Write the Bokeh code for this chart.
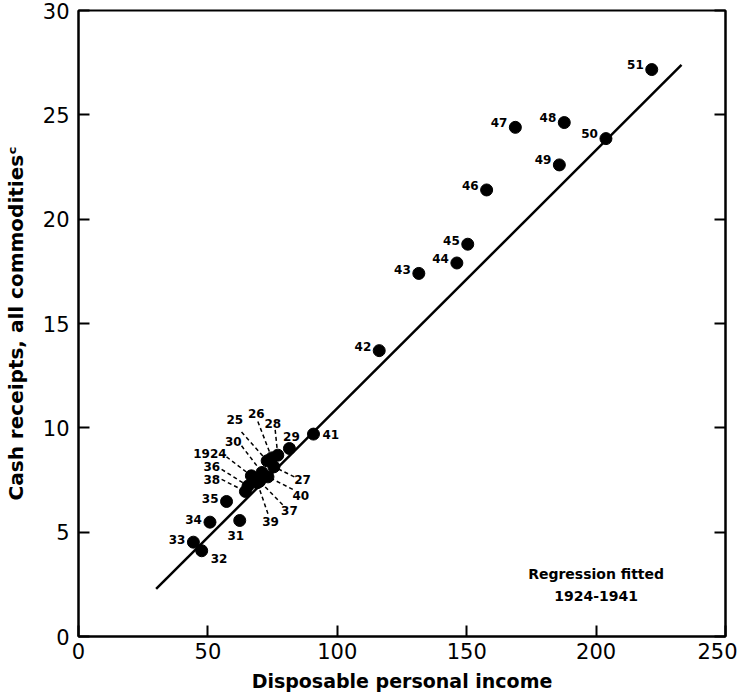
from bokeh.plotting import figure
from bokeh.models import Range1d, LinearAxis, ColumnDataSource, FixedTicker
from bokeh.core.properties import value
from bokeh.embed import file_html
from bokeh.resources import INLINE

# ---- data ----
years = ["1924", "25", "26", "27", "28", "29", "30", "31", "32", "33", "34", "35", "36", "37",
         "38", "39", "40", "41", "42", "43", "44", "45", "46", "47", "48", "49", "50", "51"]
income = [66.8, 72.9, 74.7, 75.5, 77.0, 81.5, 70.9, 62.3, 47.6, 44.4, 50.8, 57.2, 65.5, 70.0,
          64.5, 69.1, 73.2, 90.8, 116.2, 131.5, 146.2, 150.4, 157.7, 168.8, 187.7, 185.8, 203.8, 221.5]
receipts = [7.70, 8.42, 8.56, 8.13, 8.69, 9.01, 7.86, 5.56, 4.11, 4.52, 5.48, 6.47, 7.21, 7.44,
            6.95, 7.37, 7.65, 9.70, 13.70, 17.40, 17.90, 18.80, 21.40, 24.40, 24.63, 22.60, 23.86, 27.17]

# regression fitted 1924-1941 (coefficients)
reg_intercept = -1.43
reg_slope = 0.1237
reg_x = [30.0, 233.0]

x_ticks = [0, 50, 100, 150, 200, 250]
y_ticks = [0, 5, 10, 15, 20, 25, 30]

# ---- label layout ----
near_labels = [("29", 2, -12, "center"), ("41", 9, 0, "left"), ("31", -4, 15, "center"),
               ("32", 9, 8, "left"), ("33", -8, -3, "right"), ("34", -8, -3, "right"),
               ("35", -8, -3, "right"), ("42", -8, -4, "right"), ("43", -8, -4, "right"),
               ("44", -8, -4, "right"), ("45", -8, -4, "right"), ("46", -8, -4, "right"),
               ("47", -8, -5, "right"), ("48", -8, -5, "right"), ("49", -8, -5, "right"),
               ("50", -8, -5, "right"), ("51", -8, -5, "right")]
lead_years = ["25", "26", "28", "30", "1924", "36", "38", "27", "40", "37", "39"]
lead_lx = [60.4, 68.7, 75.1, 59.8, 50.8, 51.5, 51.5, 86.6, 85.9, 81.5, 74.2]
lead_ly = [10.4, 10.67, 10.2, 9.36, 8.77, 8.13, 7.53, 7.53, 6.76, 6.04, 5.51]
lead_sx = [63.0, 69.3, 76.0, 63.0, 57.2, 55.3, 55.3, 83.4, 82.8, 78.9, 73.2]
lead_sy = [9.8, 10.3, 9.9, 9.14, 8.61, 8.01, 7.53, 7.65, 7.05, 6.31, 5.88]

FONT = "DejaVu Sans"

p = figure(frame_width=647, frame_height=626, output_backend="svg", toolbar_location=None,
           x_range=Range1d(0, 250), y_range=Range1d(0, 30),
           min_border_left=78, min_border_right=12, min_border_top=10, min_border_bottom=52,
           background_fill_color="white", border_fill_color="white")
p.xgrid.visible = False
p.ygrid.visible = False
p.outline_line_color = "black"
p.outline_line_width = 2

for ax in (p.xaxis[0], p.yaxis[0]):
    ax.axis_line_width = 2
    ax.major_tick_line_width = 2
    ax.major_tick_in = 11
    ax.major_tick_out = 0
    ax.minor_tick_line_color = None
    ax.major_label_text_font = FONT
    ax.major_label_text_font_size = "21px"
    ax.major_label_text_color = "black"
    ax.axis_label_text_font = FONT
    ax.axis_label_text_font_style = "bold"
    ax.axis_label_text_font_size = "19px"
    ax.axis_label_text_color = "black"

p.yaxis.axis_label_text_font_size = "20px"
p.xaxis.ticker = FixedTicker(ticks=x_ticks)
p.yaxis.ticker = FixedTicker(ticks=y_ticks)
p.xaxis.axis_label = "Disposable personal income"
p.yaxis.axis_label = "Cash receipts, all commodities\u1d9c"
p.xaxis.major_label_standoff = 6
p.yaxis.major_label_standoff = 9
p.xaxis.axis_label_standoff = 8
p.yaxis.axis_label_standoff = 12

right = LinearAxis(ticker=FixedTicker(ticks=y_ticks), major_tick_in=11, major_tick_out=0,
                   axis_line_width=2, major_tick_line_width=2, minor_tick_line_color=None,
                   major_label_overrides={t: "" for t in y_ticks})
p.add_layout(right, "right")

# regression line
reg_y = [reg_intercept + reg_slope * v for v in reg_x]
p.line(reg_x, reg_y, line_color="black", line_width=2.5)

# leader lines
idx = {y: i for i, y in enumerate(years)}
ex = [income[idx[y]] for y in lead_years]
ey = [receipts[idx[y]] for y in lead_years]
p.segment(x0=lead_sx, y0=lead_sy, x1=ex, y1=ey, line_color="black", line_width=1.5,
          line_dash="4 3")

# points
p.scatter(income, receipts, size=12, fill_color="black", line_color="black")

# near labels
for align in ("left", "right", "center"):
    sel = [t for t in near_labels if t[3] == align]
    src = ColumnDataSource(dict(
        x=[income[idx[t[0]]] for t in sel],
        y=[receipts[idx[t[0]]] for t in sel],
        text=[t[0] for t in sel],
        dx=[t[1] for t in sel],
        dy=[t[2] for t in sel]))
    p.text(x="x", y="y", text="text", x_offset="dx", y_offset="dy", source=src,
           text_align=align, text_baseline="middle", text_font=value(FONT),
           text_font_style="bold", text_font_size="12px", text_color="black")

# leader labels
p.text(x=lead_lx, y=lead_ly, text=lead_years, text_align="center", text_baseline="middle",
       text_font=value(FONT), text_font_style="bold", text_font_size="12px", text_color="black")

# note
p.text(x=[200, 200], y=[3.0, 1.95], text=["Regression fitted", "1924-1941"],
       text_align="center", text_baseline="middle", text_font=value(FONT),
       text_font_style="bold", text_font_size="14px", text_color="black")

open("out.html", "w").write(file_html(p, INLINE))
